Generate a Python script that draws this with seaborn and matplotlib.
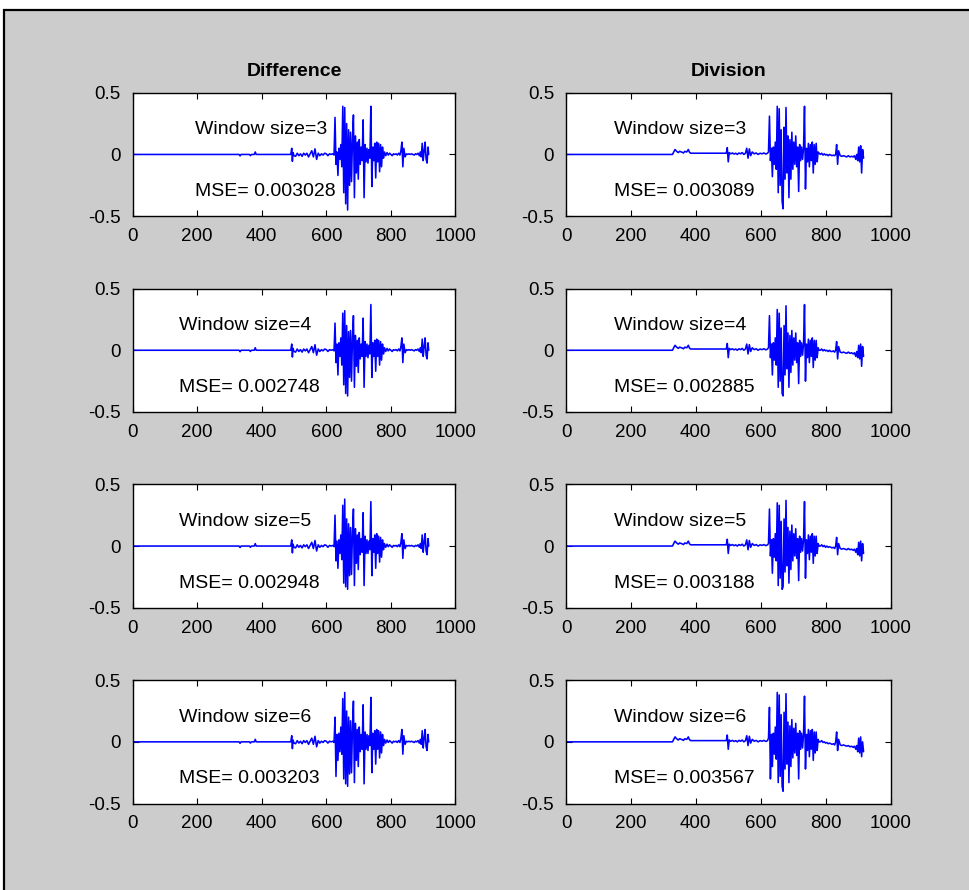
import numpy as np
import pandas as pd
import matplotlib
matplotlib.use("Agg")
import matplotlib.pyplot as plt
from matplotlib.patches import Rectangle
import seaborn as sns

sns.set_theme(style="ticks")
plt.rcParams['font.family'] = ['Liberation Sans', 'DejaVu Sans']
plt.rcParams['text.color'] = 'black'

# ---------------- data ----------------
col_titles = ["Difference", "Division"]
window_sizes = [3, 4, 5, 6]
mse_diff = ["0.003028", "0.002748", "0.002948", "0.003203"]
mse_div = ["0.003089", "0.002885", "0.003188", "0.003567"]
x_ticks = [0, 200, 400, 600, 800, 1000]
y_ticks = [-0.5, 0, 0.5]
y_tick_labels = ["-0.5", "0", "0.5"]

# Difference column: sample positions
diff_t_quiet = [0, 330, 333, 336, 362, 365, 368, 377, 380, 383, 490, 493, 495, 497, 500]
diff_t_noise = [505, 510, 515, 520, 525, 530, 535, 540, 545, 550, 555, 560, 565, 570, 575,
                580, 585, 590, 595, 600, 605, 610, 615, 620, 624]
diff_t_burst = list(range(627, 781, 3))
diff_t_tail = [784, 788, 792, 796, 800, 804, 808, 812, 816, 820, 824, 828, 831, 834, 837, 840,
               844, 848, 852, 856, 860, 864, 868, 872, 876, 880, 884, 888, 891, 894, 897, 900,
               903, 906, 909, 912, 915, 917]

diff_y_quiet = [0, 0, -0.012, 0, 0, -0.01, 0, 0, 0.02, 0, 0, 0.05, -0.055, 0.015, -0.01]
diff_y_noise = [-0.015, 0.01, -0.01, 0.005, -0.015, 0.01, -0.005, 0.01, -0.02, 0.005, 0.03, -0.02,
                0.045, -0.04, 0.01, -0.01, 0.005, -0.005, 0.01, 0.005, -0.01, 0.005, 0, 0.005, -0.005]
diff_y_tail = [-0.01, 0.015, -0.005, 0.01, 0, -0.01, 0.005, 0, 0.005, -0.005, 0.01, -0.005, 0.03,
               0.10, -0.10, 0.05, -0.02, 0.005, 0, 0.005, 0, 0.005, 0, -0.005, 0.005, 0, 0.01,
               -0.01, 0.02, -0.02, 0.09, -0.05, 0.03, 0.10, -0.04, -0.07, 0.06, 0.0]

diff3_burst = [0.30, -0.08, 0.02, -0.17, 0.05, -0.04, 0.08, -0.10, 0.39, -0.31,
               0.38, -0.40, 0.25, -0.45, 0.20, -0.25, 0.18, -0.22, 0.12, 0.32,
               -0.35, 0.15, -0.15, 0.10, -0.20, 0.12, -0.08, 0.06, -0.05, 0.28,
               -0.35, 0.08, -0.06, 0.05, -0.07, 0.04, -0.03, 0.39, -0.26, 0.06,
               -0.05, 0.09, -0.19, 0.10, -0.06, 0.09, -0.14, 0.08, -0.10, 0.06,
               -0.03, 0.02]
diff4_burst = [0.22, -0.10, 0.05, -0.20, 0.06, -0.05, 0.10, -0.12, 0.30, -0.28,
               0.32, -0.35, 0.20, -0.37, 0.15, -0.22, 0.16, -0.25, 0.10, 0.28,
               -0.30, 0.12, -0.13, 0.08, -0.18, 0.10, -0.07, 0.05, -0.05, 0.26,
               -0.30, 0.07, -0.05, 0.05, -0.06, 0.04, -0.03, 0.37, -0.22, 0.06,
               -0.05, 0.08, -0.17, 0.09, -0.05, 0.08, -0.12, 0.07, -0.08, 0.05,
               -0.03, 0.02]
diff5_burst = [0.25, -0.12, 0.04, -0.18, 0.05, -0.06, 0.09, -0.11, 0.33, -0.30,
               0.38, -0.33, 0.22, -0.35, 0.18, -0.24, 0.15, -0.23, 0.11, 0.30,
               -0.32, 0.14, -0.14, 0.09, -0.19, 0.11, -0.07, 0.06, -0.05, 0.27,
               -0.32, 0.08, -0.06, 0.05, -0.06, 0.04, -0.03, 0.36, -0.24, 0.06,
               -0.05, 0.09, -0.18, 0.10, -0.06, 0.08, -0.13, 0.07, -0.09, 0.05,
               -0.03, 0.02]
diff6_burst = [0.20, -0.28, 0.06, -0.15, 0.07, -0.08, 0.12, -0.10, 0.35, -0.30,
               0.40, -0.34, 0.25, -0.36, 0.20, -0.26, 0.17, -0.25, 0.12, 0.33,
               -0.33, 0.15, -0.15, 0.10, -0.20, 0.12, -0.08, 0.06, -0.06, 0.30,
               -0.34, 0.08, -0.06, 0.06, -0.07, 0.05, -0.03, 0.36, -0.25, 0.07,
               -0.06, 0.09, -0.18, 0.10, -0.06, 0.09, -0.13, 0.08, -0.09, 0.06,
               -0.03, 0.02]

# Division column: sample positions
div_t_quiet = [0, 328, 332, 336, 341, 346, 350, 356, 362, 366, 372, 377, 380, 384, 440, 494,
               497, 500, 503]
div_t_noise = [508, 513, 518, 523, 528, 533, 538, 543, 548, 553, 557, 561, 565, 569, 574, 580,
               586, 592, 598, 604, 610, 616, 621]
div_t_burst = list(range(624, 781, 3))
div_t_tail = [784, 788, 792, 796, 800, 804, 808, 812, 816, 820, 824, 828, 831, 834, 837, 840,
              845, 850, 855, 860, 865, 870, 875, 880, 885, 889, 893, 896, 899, 902, 905, 908,
              911, 914, 917]

div_y_quiet = [0, 0, 0.02, 0.04, 0.025, 0.015, 0.025, 0.02, 0.012, 0.025, 0.02, 0.04, 0.02,
               0.01, 0.01, 0.01, 0.055, -0.06, 0.015]
div_y_noise = [0.005, 0.012, 0.003, 0.01, 0.0, 0.012, 0.005, 0.015, 0.0, 0.01, 0.05, -0.03,
               0.045, -0.01, 0.02, 0.005, 0.012, 0.0, 0.01, 0.005, 0.012, 0.003, 0.01]

div3_burst = [0.02, 0.31, -0.05, 0.05, -0.18, 0.06, -0.08, 0.10, -0.12, 0.39,
              -0.31, 0.37, -0.25, 0.20, -0.38, -0.44, 0.22, -0.20, 0.38, -0.15,
              0.15, -0.35, 0.12, -0.20, 0.18, -0.12, 0.10, -0.08, 0.15, -0.10,
              0.06, -0.30, 0.08, -0.05, 0.06, -0.04, 0.05, 0.39, -0.28, 0.05,
              -0.06, 0.09, -0.10, 0.08, -0.05, 0.10, -0.15, 0.08, -0.08, 0.09,
              -0.06, 0.02, 0.01]
div4_burst = [0.02, 0.28, -0.06, 0.05, -0.20, 0.06, -0.08, 0.10, -0.12, 0.33,
              -0.30, 0.30, -0.25, 0.18, -0.35, -0.37, 0.20, -0.20, 0.36, -0.15,
              0.14, -0.30, 0.12, -0.18, 0.16, -0.12, 0.10, -0.08, 0.14, -0.10,
              0.06, -0.27, 0.08, -0.05, 0.06, -0.04, 0.05, 0.37, -0.25, 0.05,
              -0.06, 0.09, -0.10, 0.08, -0.05, 0.10, -0.14, 0.08, -0.08, 0.08,
              -0.06, 0.02, 0.0]
div5_burst = [0.02, 0.30, -0.08, 0.05, -0.22, 0.06, -0.09, 0.10, -0.12, 0.35,
              -0.32, 0.33, -0.26, 0.20, -0.35, -0.33, 0.22, -0.21, 0.37, -0.16,
              0.15, -0.30, 0.12, -0.19, 0.17, -0.12, 0.10, -0.08, 0.14, -0.10,
              0.06, -0.28, 0.08, -0.05, 0.06, -0.04, 0.05, 0.36, -0.26, 0.05,
              -0.06, 0.09, -0.11, 0.08, -0.05, 0.10, -0.14, 0.08, -0.08, 0.08,
              -0.06, 0.02, 0.0]
div6_burst = [0.03, 0.28, -0.30, 0.06, -0.20, 0.07, -0.10, 0.12, -0.14, 0.40,
              -0.33, 0.38, -0.28, 0.22, -0.36, -0.40, 0.24, -0.22, 0.39, -0.18,
              0.16, -0.33, 0.13, -0.20, 0.18, -0.13, 0.11, -0.09, 0.15, -0.11,
              0.07, -0.30, 0.09, -0.06, 0.07, -0.05, 0.06, 0.37, -0.22, 0.06,
              -0.07, 0.10, -0.12, 0.09, -0.06, 0.10, -0.15, 0.08, -0.09, 0.08,
              -0.07, 0.02, 0.0]

div3_tail = [0.0, 0.01, -0.005, 0.005, -0.005, 0.0, -0.01, 0.0, -0.005, -0.01, -0.005, -0.01,
             0.0, 0.08, -0.08, 0.03, -0.01, -0.015, -0.01, -0.015, -0.02, -0.01, -0.02, -0.015,
             -0.02, -0.01, -0.04, 0.0, -0.05, 0.06, -0.06, 0.07, -0.15, 0.04, -0.03]
div4_tail = [0.0, 0.01, -0.005, 0.005, -0.005, 0.0, -0.01, 0.0, -0.01, -0.01, -0.005, -0.015,
             0.0, 0.07, -0.07, 0.03, -0.015, -0.02, -0.015, -0.02, -0.025, -0.015, -0.025, -0.02,
             -0.03, -0.02, -0.05, -0.01, -0.06, 0.04, -0.07, 0.05, -0.13, 0.03, -0.05]
div5_tail = [0.0, 0.01, -0.005, 0.005, -0.01, 0.0, -0.01, -0.005, -0.01, -0.015, -0.01, -0.02,
             0.0, 0.07, -0.07, 0.02, -0.02, -0.025, -0.02, -0.025, -0.03, -0.02, -0.03, -0.025,
             -0.035, -0.025, -0.05, -0.02, -0.07, 0.03, -0.08, 0.04, -0.12, 0.02, -0.06]
div6_tail = [0.0, 0.01, -0.005, 0.0, -0.01, -0.005, -0.015, -0.01, -0.015, -0.02, -0.015, -0.025,
             0.0, 0.08, -0.07, 0.02, -0.025, -0.03, -0.025, -0.03, -0.035, -0.03, -0.04, -0.035,
             -0.045, -0.035, -0.06, -0.03, -0.08, 0.03, -0.09, 0.04, -0.12, 0.0, -0.08]

diff_bursts = [diff3_burst, diff4_burst, diff5_burst, diff6_burst]
div_bursts = [div3_burst, div4_burst, div5_burst, div6_burst]
div_tails = [div3_tail, div4_tail, div5_tail, div6_tail]

# ---------------- figure ----------------
W, H = 969, 890
fig = plt.figure(figsize=(W / 100, H / 100), dpi=100)
fig.patch.set_facecolor("white")
fig.add_artist(Rectangle((4 / W, -0.02), 1.1, (H - 10) / H + 0.02, transform=fig.transFigure,
                         facecolor="#cccccc", edgecolor="black", linewidth=1.6, zorder=0))

col_left = [132.5, 566.0]
col_width = [323.0, 324.5]
row_tops = [92.7, 288.5, 484.3, 680.1]
ax_h = 123.5

text_x = [[195, 145, 145, 145], [148, 148, 148, 148]]

for c in range(2):
    for r in range(4):
        left = col_left[c] / W
        bottom = (H - (row_tops[r] + ax_h)) / H
        ax = fig.add_axes([left, bottom, col_width[c] / W, ax_h / H])
        ax.set_facecolor("white")
        if c == 0:
            t = diff_t_quiet + diff_t_noise + diff_t_burst + diff_t_tail
            y = diff_y_quiet + diff_y_noise + diff_bursts[r] + diff_y_tail
            mse = mse_diff[r]
        else:
            t = div_t_quiet + div_t_noise + div_t_burst + div_t_tail
            y = div_y_quiet + div_y_noise + div_bursts[r] + div_tails[r]
            mse = mse_div[r]
        assert len(t) == len(y), (c, r, len(t), len(y))
        df = pd.DataFrame({"t": t, "y": y})
        sns.lineplot(data=df, x="t", y="y", ax=ax, color=(0, 0, 1), linewidth=1.15,
                     estimator=None, sort=False)
        ax.set_xlim(0, 1000)
        ax.set_ylim(-0.5, 0.5)
        ax.set_xticks(x_ticks)
        ax.set_xticklabels([str(v) for v in x_ticks])
        ax.set_yticks(y_ticks)
        ax.set_yticklabels(y_tick_labels)
        ax.set_xlabel("")
        ax.set_ylabel("")
        ax.tick_params(direction="in", length=4, width=0.8, top=True, right=True,
                       labelsize=13.5, colors="black")
        ax.tick_params(axis="y", pad=8.5)
        ax.tick_params(axis="x", pad=8.5)
        for s in ax.spines.values():
            s.set_visible(True)
            s.set_color("black")
            s.set_linewidth(1.0)
        ax.text(text_x[c][r], 0.2, f"Window size={window_sizes[r]}", fontsize=14,
                ha="left", va="center", color="black")
        ax.text(text_x[c][r], -0.3, f"MSE= {mse}", fontsize=14,
                ha="left", va="center", color="black")
        if r == 0:
            ax.set_title(col_titles[c], fontsize=14, fontweight="bold", pad=12,
                         color="black")

fig.savefig("out.png", dpi=100, facecolor=fig.get_facecolor())
